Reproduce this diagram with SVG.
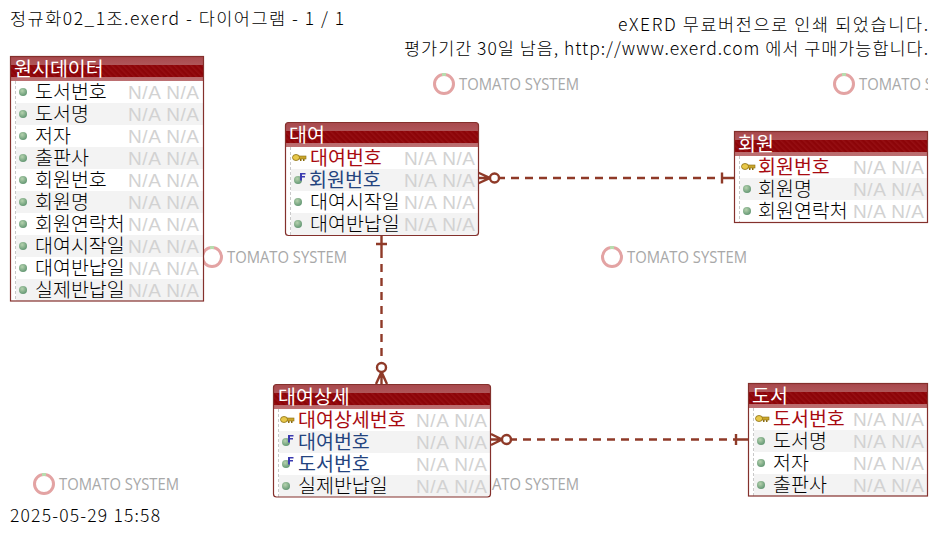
<svg xmlns="http://www.w3.org/2000/svg" width="939" height="537" viewBox="0 0 939 537">
<style>
text{font-family:"Noto Sans CJK KR","Liberation Sans",sans-serif}
.page{font-size:17.5px;fill:#000;font-weight:300}
.hd{font-size:19.5px;fill:#fff}
.c{font-size:19.5px;fill:#000;font-weight:300}
.pk{fill:#a80a10;font-weight:400}
.fk{fill:#24447f;font-weight:400}
.na{font-family:"Liberation Sans",sans-serif;font-size:19px;fill:#d2d2d2}
.wm{font-family:"Open Sans","Liberation Sans",sans-serif;font-size:16px;fill:#a8a8a8}
.box{fill:#fff;stroke:none}
.frame{fill:none;stroke:#84302c;stroke-width:1.2}
.alt{fill:#f3f3f3}
.band{fill:url(#bandG)}
.dark{fill:url(#hatch)}
.sep{stroke:#c9c9c9;stroke-dasharray:3 2;stroke-width:1}
.ln{fill:none;stroke:#8f3a28;stroke-width:2.4}
.dash{stroke-dasharray:8 6}
.ring{fill:#fff;stroke:#8f3a28;stroke-width:2.4}
</style>
<defs>
<linearGradient id="bandG" x1="0" y1="0" x2="0" y2="1"><stop offset="0" stop-color="#a8484c"/><stop offset="1" stop-color="#bd7072"/></linearGradient>
<radialGradient id="ball" cx=".4" cy=".35" r=".7"><stop offset="0" stop-color="#b5d2ae"/><stop offset="1" stop-color="#5f9470"/></radialGradient>
<pattern id="hatch" width="4" height="4" patternUnits="userSpaceOnUse" patternTransform="rotate(-45)"><rect width="4" height="4" fill="#8c0408"/><rect width="1.5" height="4" fill="#960f13"/></pattern>
<g id="bullet"><circle r="4" fill="url(#ball)"/></g>
<g id="key"><rect x="2" y="-2" width="8" height="3" fill="#c9a52c" stroke="#8a6d10" stroke-width=".6"/><ellipse cx="0" cy="-.5" rx="3.500" ry="3" fill="#e8c84a" stroke="#8a6d10" stroke-width=".8"/><rect x="4" y="1" width="1.500" height="2" fill="#8a6d10"/><rect x="7" y="1" width="1.500" height="2" fill="#8a6d10"/></g>
<g id="fkicon"><circle cx="0" cy="2" r="4" fill="url(#ball)"/><path d="M2-5h5.500v1.600h-3.500v1.400h3v1.500h-3v3h-2z" fill="#3a3ab0"/></g>
<g id="wmark"><circle cx="11" cy="11" r="9.500" fill="none" stroke="#e3a3a3" stroke-width="3"/><rect x="9" y="0" width="4" height="3" fill="#b8dcae"/><text class="wm" x="26" y="17" textLength="120" lengthAdjust="spacingAndGlyphs">TOMATO SYSTEM</text></g>
<clipPath id="pg"><rect width="928" height="537"/></clipPath>
</defs>
<rect width="939" height="537" fill="#fff"/>
<g id="watermarks" clip-path="url(#pg)">
<use href="#wmark" x="433" y="73"/><use href="#wmark" x="833" y="73"/><use href="#wmark" x="201" y="246"/><use href="#wmark" x="601" y="246"/><use href="#wmark" x="33" y="473"/><use href="#wmark" x="433" y="473"/>
</g>
<g id="page-text">
<text class="page" x="10" y="25" textLength="334" lengthAdjust="spacing">정규화02_1조.exerd - 다이어그램 - 1 / 1</text>
<text class="page" x="618" y="31" textLength="310" lengthAdjust="spacing">eXERD 무료버전으로 인쇄 되었습니다.</text>
<text class="page" x="404" y="55" textLength="524" lengthAdjust="spacing">평가기간 30일 남음, http://www.exerd.com 에서 구매가능합니다.</text>
<text class="page" x="10" y="522" textLength="150" lengthAdjust="spacing">2025-05-29 15:58</text>
</g>
<g id="connectors">
<path class="ln dash" d="M497 178H722"/><path class="ln" d="M722 178H734M722 172.500V183.500M478 178H490M478 172.500L490 178L478 183.500"/><circle class="ring" cx="494.500" cy="178" r="4.500"/>
<path class="ln dash" d="M381.500 250V362"/><path class="ln" d="M381.500 236V250M376 244H387M381.500 372V384M376 384L381.500 372L387 384"/><circle class="ring" cx="381.500" cy="367.500" r="4.500"/>
<path class="ln dash" d="M509 439.500H736"/><path class="ln" d="M736 439.500H748M736 434V445M491 439.500H502M491 434L502 439.500L491 445"/><circle class="ring" cx="506.500" cy="439.500" r="4.500"/>
</g>
<g id="node-raw">
<rect class="box" x="10.500" y="56.500" width="193" height="244.500"/>
<rect class="band" x="10.500" y="56.500" width="193" height="24.500"/><rect class="dark" x="11" y="65" width="192" height="12"/>
<rect class="alt" x="16" y="103" width="187" height="22"/><rect class="alt" x="16" y="147" width="187" height="22"/><rect class="alt" x="16" y="191" width="187" height="22"/><rect class="alt" x="16" y="235" width="187" height="22"/><rect class="alt" x="16" y="279" width="187" height="22"/>
<path class="sep" d="M15.500 81V301"/>
<rect class="frame" x="10.500" y="56.500" width="193" height="244.500"/>
<text class="hd" x="14" y="76">원시데이터</text>
<use href="#bullet" x="23" y="92"/><text class="c" x="35" y="99">도서번호</text><text class="na" x="128" y="99" textLength="71">N/A N/A</text>
<use href="#bullet" x="23" y="114"/><text class="c" x="35" y="121">도서명</text><text class="na" x="128" y="121" textLength="71">N/A N/A</text>
<use href="#bullet" x="23" y="136"/><text class="c" x="35" y="143">저자</text><text class="na" x="128" y="143" textLength="71">N/A N/A</text>
<use href="#bullet" x="23" y="158"/><text class="c" x="35" y="165">출판사</text><text class="na" x="128" y="165" textLength="71">N/A N/A</text>
<use href="#bullet" x="23" y="180"/><text class="c" x="35" y="187">회원번호</text><text class="na" x="128" y="187" textLength="71">N/A N/A</text>
<use href="#bullet" x="23" y="202"/><text class="c" x="35" y="209">회원명</text><text class="na" x="128" y="209" textLength="71">N/A N/A</text>
<use href="#bullet" x="23" y="224"/><text class="c" x="35" y="231">회원연락처</text><text class="na" x="128" y="231" textLength="71">N/A N/A</text>
<use href="#bullet" x="23" y="246"/><text class="c" x="35" y="253">대여시작일</text><text class="na" x="128" y="253" textLength="71">N/A N/A</text>
<use href="#bullet" x="23" y="268"/><text class="c" x="35" y="275">대여반납일</text><text class="na" x="128" y="275" textLength="71">N/A N/A</text>
<use href="#bullet" x="23" y="290"/><text class="c" x="35" y="297">실제반납일</text><text class="na" x="128" y="297" textLength="71">N/A N/A</text>
</g>
<g id="node-rental">
<rect class="box" x="285.500" y="122.500" width="193" height="113" rx="3"/>
<path class="band" d="M285.500 147V125.500a3 3 0 0 1 3-3H475.500a3 3 0 0 1 3 3V147z"/><rect class="dark" x="286" y="131" width="192" height="12"/>
<rect class="alt" x="291" y="169" width="187" height="22"/><rect class="alt" x="291" y="213" width="187" height="22"/>
<path class="sep" d="M290.500 147V235"/>
<rect class="frame" x="285.500" y="122.500" width="193" height="113" rx="3"/>
<text class="hd" x="289" y="142">대여</text>
<use href="#key" x="296" y="158"/><text class="c pk" x="310" y="165">대여번호</text><text class="na" x="404" y="165" textLength="71">N/A N/A</text>
<use href="#fkicon" x="298" y="178"/><text class="c fk" x="309" y="187">회원번호</text><text class="na" x="404" y="187" textLength="71">N/A N/A</text>
<use href="#bullet" x="298" y="202"/><text class="c" x="310" y="209">대여시작일</text><text class="na" x="404" y="209" textLength="71">N/A N/A</text>
<use href="#bullet" x="298" y="224"/><text class="c" x="310" y="231">대여반납일</text><text class="na" x="404" y="231" textLength="71">N/A N/A</text>
</g>
<g id="node-member">
<rect class="box" x="734.500" y="131.500" width="193" height="91"/>
<rect class="band" x="734.500" y="131.500" width="193" height="24.500"/><rect class="dark" x="735" y="140" width="192" height="12"/>
<rect class="alt" x="740" y="178" width="187" height="22"/>
<path class="sep" d="M739.500 156V222"/>
<rect class="frame" x="734.500" y="131.500" width="193" height="91"/>
<text class="hd" x="738" y="151">회원</text>
<use href="#key" x="745" y="167"/><text class="c pk" x="758" y="174">회원번호</text><text class="na" x="853" y="174" textLength="71">N/A N/A</text>
<use href="#bullet" x="747" y="189"/><text class="c" x="758" y="196">회원명</text><text class="na" x="853" y="196" textLength="71">N/A N/A</text>
<use href="#bullet" x="747" y="211"/><text class="c" x="758" y="218">회원연락처</text><text class="na" x="853" y="218" textLength="71">N/A N/A</text>
</g>
<g id="node-rental-detail">
<rect class="box" x="273.500" y="384.500" width="217" height="112.500" rx="3"/>
<path class="band" d="M273.500 409V387.500a3 3 0 0 1 3-3H487.500a3 3 0 0 1 3 3V409z"/><rect class="dark" x="274" y="393" width="216" height="12"/>
<rect class="alt" x="279" y="431" width="211" height="22"/><rect class="alt" x="279" y="475" width="211" height="22"/>
<path class="sep" d="M278.500 409V497"/>
<rect class="frame" x="273.500" y="384.500" width="217" height="112.500" rx="3"/>
<text class="hd" x="278" y="404">대여상세</text>
<use href="#key" x="284" y="420"/><text class="c pk" x="298" y="427">대여상세번호</text><text class="na" x="416" y="427" textLength="71">N/A N/A</text>
<use href="#fkicon" x="286" y="440"/><text class="c fk" x="298" y="449">대여번호</text><text class="na" x="416" y="449" textLength="71">N/A N/A</text>
<use href="#fkicon" x="286" y="462"/><text class="c fk" x="298" y="471">도서번호</text><text class="na" x="416" y="471" textLength="71">N/A N/A</text>
<use href="#bullet" x="286" y="486"/><text class="c" x="298" y="493">실제반납일</text><text class="na" x="416" y="493" textLength="71">N/A N/A</text>
</g>
<g id="node-book">
<rect class="box" x="748.500" y="383.500" width="179" height="112.500"/>
<rect class="band" x="748.500" y="383.500" width="179" height="24.500"/><rect class="dark" x="749" y="392" width="178" height="12"/>
<rect class="alt" x="754" y="430" width="173" height="22"/><rect class="alt" x="754" y="474" width="173" height="22"/>
<path class="sep" d="M753.500 408V496"/>
<rect class="frame" x="748.500" y="383.500" width="179" height="112.500"/>
<text class="hd" x="752" y="403">도서</text>
<use href="#key" x="759" y="419"/><text class="c pk" x="773" y="426">도서번호</text><text class="na" x="853" y="426" textLength="71">N/A N/A</text>
<use href="#bullet" x="761" y="441"/><text class="c" x="773" y="448">도서명</text><text class="na" x="853" y="448" textLength="71">N/A N/A</text>
<use href="#bullet" x="761" y="463"/><text class="c" x="773" y="470">저자</text><text class="na" x="853" y="470" textLength="71">N/A N/A</text>
<use href="#bullet" x="761" y="485"/><text class="c" x="773" y="492">출판사</text><text class="na" x="853" y="492" textLength="71">N/A N/A</text>
</g>
</svg>
